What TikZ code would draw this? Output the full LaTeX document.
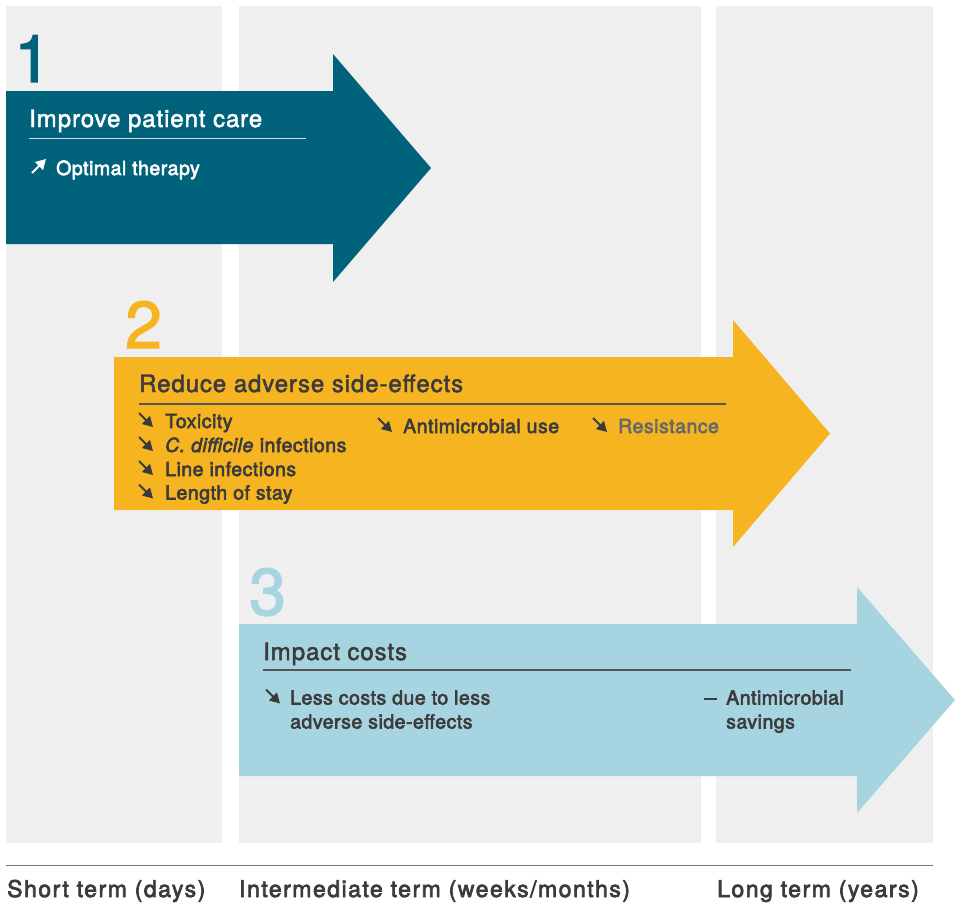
\documentclass[tikz,border=0pt]{standalone}
\usepackage{fontspec}
\setmainfont{TeX Gyre Heros}
\newfontfamily\headfont[LetterSpace=3.8,FakeBold=2]{TeX Gyre Heros}
\newfontfamily\bodyfont[LetterSpace=2.6,FakeBold=3]{TeX Gyre Heros}
\newfontfamily\axisfont[LetterSpace=6.5,FakeBold=3]{TeX Gyre Heros}
\newfontfamily\numfont[FakeBold=2]{TeX Gyre Heros}
\usetikzlibrary{arrows.meta}

\definecolor{colgray}{HTML}{EFEFEF}
\definecolor{tealblue}{HTML}{00627B}
\definecolor{amber}{HTML}{F6B421}
\definecolor{skyblue}{HTML}{A7D4E1}
\definecolor{ink}{HTML}{3B3B3B}
\definecolor{softink}{HTML}{686868}
\definecolor{rulegray}{HTML}{555555}
\definecolor{axisgray}{HTML}{777777}

\tikzset{
  column/.style={fill=colgray, draw=none},
  stepno/.style={anchor=base west, inner sep=0pt, font=\numfont\fontsize{66}{70}\selectfont},
  headtext/.style={anchor=base west, inner sep=0pt, font=\headfont\fontsize{24}{28}\selectfont, text=ink},
  itemtext/.style={anchor=base west, inner sep=0pt, font=\bodyfont\fontsize{19.5}{24}\selectfont, text=ink, align=left},
  axistext/.style={anchor=base west, inner sep=0pt, font=\axisfont\fontsize{23}{27}\selectfont, text=ink},
  headrule/.style={draw=rulegray, line width=1.2pt},
  trend/.style={draw=ink, fill=ink, line width=1.8pt, -{Triangle[length=10pt,width=11pt]}},
}

\begin{document}
\begin{tikzpicture}[x=1pt,y=-1pt]
\useasboundingbox (0,0) rectangle (959,903);

% time-scale columns
\fill[column] (6,6) rectangle (222,843);
\fill[column] (239,6) rectangle (701,843);
\fill[column] (716,6) rectangle (933,843);

% step 1 arrow
\fill[tealblue] (6,91) -- (333,91) -- (333,54) -- (431,168) -- (333,282) -- (333,244) -- (6,244) -- cycle;
% step 2 arrow
\fill[amber] (114,357) -- (733,357) -- (733,320) -- (830,433.5) -- (733,547) -- (733,510) -- (114,510) -- cycle;
% step 3 arrow
\fill[skyblue] (239,624) -- (857,624) -- (857,587) -- (955,700) -- (857,813) -- (857,776) -- (239,776) -- cycle;

% step numbers
\node[stepno, text=tealblue] (n1) at (14,82) {1};
\node[stepno, text=amber] (n2) at (125,348) {2};
\node[stepno, text=skyblue] (n3) at (249,615) {3};

% step 1 content
\node[headtext, text=white] (h1) at (29,127) {Improve patient care};
\draw[draw=white!80!tealblue, line width=1pt] (29,138) -- (305.5,138);
\node[itemtext, text=white] (o1) at (56,175) {Optimal therapy};
\draw[trend, draw=white, fill=white] (32,173) -- (46,159);

% step 2 content
\node[headtext] (h2) at (139,392) {Reduce adverse side-effects};
\draw[headrule] (139,404) -- (726,404);
\node[itemtext] (tox) at (165,428) {Toxicity};
\node[itemtext] (cdi) at (165,452) {\textit{C. difficile} infections};
\node[itemtext] (lin) at (165,476) {Line infections};
\node[itemtext] (los) at (165,499.5) {Length of stay};
\node[itemtext] (amu) at (403,433) {Antimicrobial use};
\node[itemtext, text=softink] (res) at (618,433) {Resistance};
\draw[trend] (139,413) -- (153,427);
\draw[trend] (139,437) -- (153,451);
\draw[trend] (139,461) -- (153,475);
\draw[trend] (139,484.5) -- (153,498.5);
\draw[trend] (378,418) -- (392,432);
\draw[trend] (593,418) -- (607,432);

% step 3 content
\node[headtext] (h3) at (263,660) {Impact costs};
\draw[headrule] (263,670) -- (851,670);
\node[itemtext] (lcs) at (290,704.5) {Less costs due to less};
\node[itemtext] (lcs2) at (290,728.5) {adverse side-effects};
\draw[trend] (266,689.5) -- (280,703.5);
\node[itemtext] (ams) at (726,704.5) {Antimicrobial};
\node[itemtext] (ams2) at (726,728.5) {savings};
\draw[draw=ink, line width=2pt] (704,699) -- (717,699);

% time axis
\draw[draw=axisgray, line width=1.5pt] (6,865.5) -- (933,865.5);
\node[axistext] (st) at (7,897) {Short term (days)};
\node[axistext] (it) at (239,897) {Intermediate term (weeks/months)};
\node[axistext] (lt) at (717,897) {Long term (years)};
\end{tikzpicture}
\end{document}
